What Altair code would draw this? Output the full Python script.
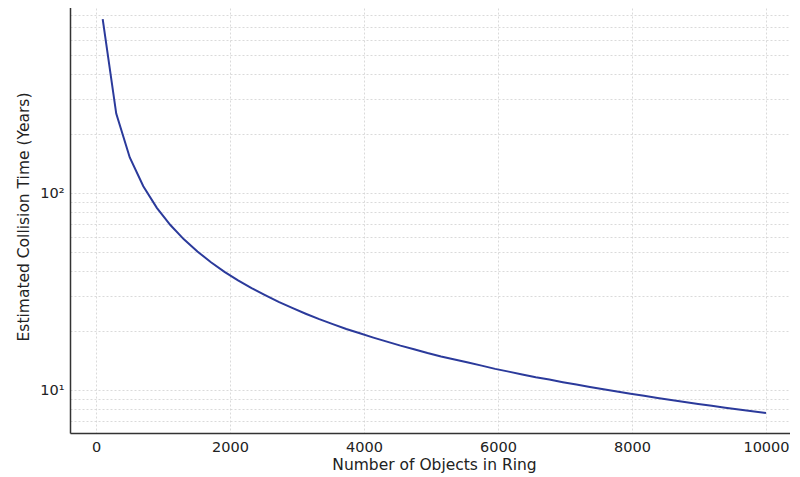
import altair as alt
import pandas as pd

objects = [100, 302, 504, 706, 908, 1110, 1312, 1514, 1716, 1918, 2120, 2322, 2524,
           2726, 2928, 3130, 3332, 3534, 3736, 3938, 4140, 4342, 4544, 4746, 4948,
           5150, 5352, 5554, 5756, 5958, 6160, 6362, 6564, 6766, 6968, 7170, 7372,
           7574, 7776, 7978, 8180, 8382, 8584, 8786, 8988, 9190, 9392, 9594, 9796, 10000]
years = [764, 253, 151.6, 108.2, 84.1, 68.8, 58.2, 50.5, 44.5, 39.8, 36.0, 32.9, 30.3,
         28.0, 26.1, 24.4, 22.9, 21.6, 20.4, 19.4, 18.45, 17.6, 16.8, 16.1, 15.4,
         14.8, 14.3, 13.8, 13.3, 12.8, 12.4, 12.0, 11.6, 11.3, 10.96, 10.66, 10.36,
         10.09, 9.83, 9.58, 9.34, 9.11, 8.90, 8.70, 8.50, 8.31, 8.13, 7.96, 7.80, 7.64]

x_ticks = [0, 2000, 4000, 6000, 8000, 10000]
y_ticks = [7, 8, 9, 10, 20, 30, 40, 50, 60, 70, 80, 90, 100, 200, 300, 400, 500, 600, 700, 800, 900]

df = pd.DataFrame({"objects": objects, "years": years})

font = "DejaVu Sans"

chart = alt.Chart(df).mark_line(color="#2b3a9b", strokeWidth=2, clip=True).encode(
    x=alt.X("objects:Q", scale=alt.Scale(domain=[-388, 10478], nice=False, zero=False),
            axis=alt.Axis(title="Number of Objects in Ring", values=x_ticks,
                          format="d", labelFontSize=14.5, titleFontSize=15.5,
                          titleFontWeight="normal", titlePadding=4,
                          labelPadding=7, ticks=False,
                          grid=True, gridColor="#d0d0d0", gridDash=[2, 2],
                          gridWidth=0.8, domainColor="#333333", domainWidth=1.5)),
    y=alt.Y("years:Q", scale=alt.Scale(type="log", domain=[6.05, 955], nice=False),
            axis=alt.Axis(title="Estimated Collision Time (Years)", values=y_ticks,
                          labelExpr="datum.value == 10 ? '10¹' : datum.value == 100 ? '10²' : ''",
                          labelFontSize=14.5, titleFontSize=15.5, titleFontWeight="normal",
                          titlePadding=8, labelPadding=6, ticks=False,
                          grid=True, gridColor="#d0d0d0", gridDash=[2, 2],
                          gridWidth=0.8, domainColor="#333333", domainWidth=1.5)),
).properties(
    width=728, height=433,
    autosize=alt.AutoSizeParams(type="none"),
    padding={"left": 62, "top": -8, "right": -8, "bottom": 44},
).configure_axis(
    labelFont=font, titleFont=font, labelColor="#222222", titleColor="#222222",
).configure_view(stroke=None)

chart.save("out.html", embed_options={"renderer": "svg", "actions": False})
